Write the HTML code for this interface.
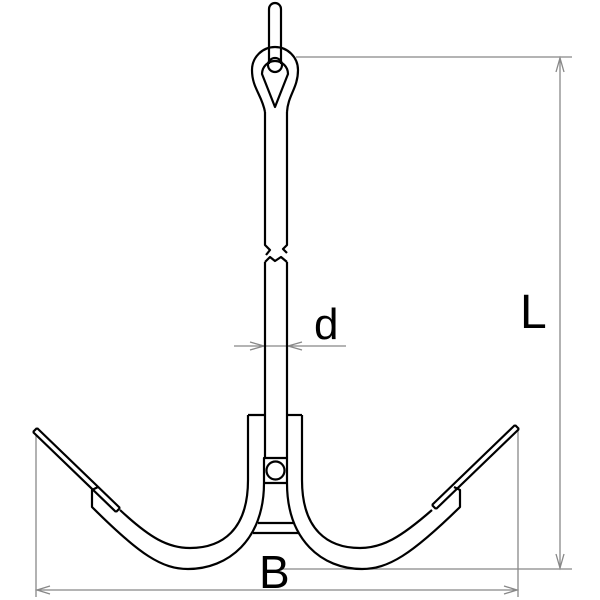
<!DOCTYPE html>
<html><head><style>html,body{margin:0;padding:0;background:#fff}svg{display:block}</style></head>
<body>
<svg width="600" height="600" viewBox="0 0 600 600" xmlns="http://www.w3.org/2000/svg">
<g fill="none" stroke="#888" stroke-width="1.3">
<line x1="296" y1="57" x2="572" y2="57"/>
<line x1="282" y1="569" x2="572" y2="569"/>
<line x1="560" y1="58" x2="560" y2="568"/>
<polyline points="556,72 560,58 564,72"/>
<polyline points="556,554 560,568 564,554"/>
<line x1="36" y1="435" x2="36" y2="597"/>
<line x1="518" y1="430" x2="518" y2="597"/>
<line x1="37" y1="590" x2="517" y2="590"/>
<polyline points="50,586 37,590 50,594"/>
<polyline points="504,586 517,590 504,594"/>
<line x1="234" y1="346" x2="346" y2="346"/>
<polyline points="250,342 264,346 250,350"/>
<polyline points="302,342 288,346 302,350"/>
</g>
<g fill="none" stroke="#000" stroke-width="2.2" stroke-linejoin="round">
<path d="M269,64 V9 A6,6 0 0 1 281,9 V64"/>
<circle cx="275" cy="65" r="7"/>
<path d="M265,112 C262,95 252,88 252,70 A23,23 0 0 1 298,70 C298,88 288,95 287,112"/>
<path d="M275,107 L262,74 A13,13 0 1 1 288,74 Z"/>
<path d="M265,112 V245 L270,250 L266,255"/>
<path d="M287,112 V245 L283,249 L287,253"/>
<path d="M265,262 L270,257 L275,261 L281,257 L287,262"/>
<path d="M265,262 V458"/>
<path d="M287,262 V458"/>
<path d="M248,415 H265"/>
<path d="M287,415 H302"/>
<rect x="264" y="458" width="23" height="25"/>
<circle cx="275.5" cy="470.5" r="9"/>
<path d="M248,415 V480 C248,530 222,548 190,548 C168,548 150,538 120,510"/>
<path d="M264,483 C264,540 228,569 188,569 C162,569 140,555 92,507 V490 L98,487"/>
<path d="M302,415 V480 C302,530 328,548 360,548 C382,548 400,538 432,510"/>
<path d="M287,483 C287,540 322,569 362,569 C388,569 411,555 460,507 V490 L454,487"/>
<path d="M258,523 H294"/>
<path d="M253,533 H299"/>
<path d="M37,428 L120,508 M33,432 L116,512"/>
<path d="M37,428 L33,432 M120,508 L116,512"/>
<path d="M515,425 L432,505 M519,429 L436,509"/>
<path d="M515,425 L519,429 M432,505 L436,509"/>
</g>
<g font-family="Liberation Sans, sans-serif" fill="#000">
<text x="314" y="339" font-size="44">d</text>
<text x="520" y="328" font-size="48">L</text>
<text x="259" y="588" font-size="46">B</text>
</g>
</svg>
</body></html>
